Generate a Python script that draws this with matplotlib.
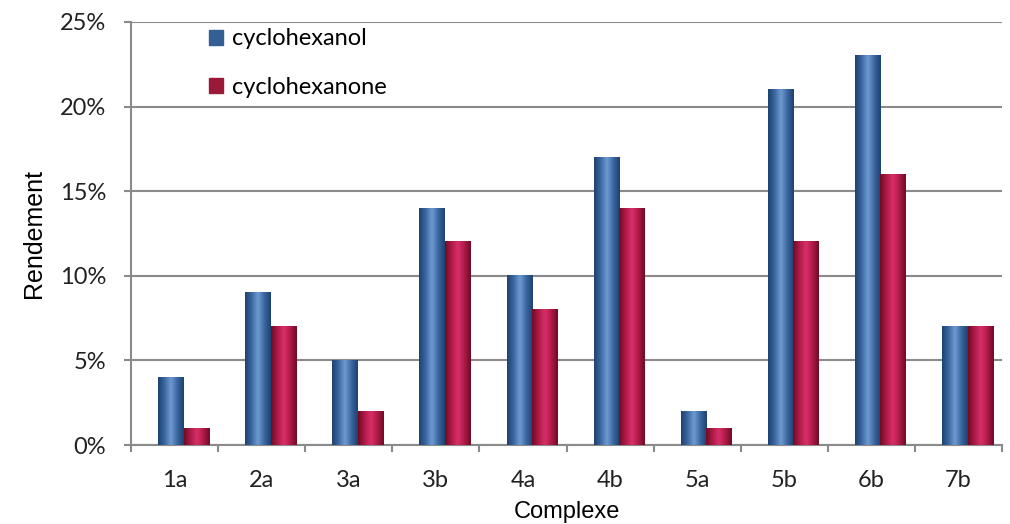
import matplotlib.pyplot as plt
import numpy as np
from matplotlib.colors import LinearSegmentedColormap
from matplotlib.patches import Patch
from matplotlib.ticker import FuncFormatter

complexes = ["1a", "2a", "3a", "3b", "4a", "4b", "5a", "5b", "6b", "7b"]
cyclohexanol = [4, 9, 5, 14, 10, 17, 2, 21, 23, 7]
cyclohexanone = [1, 7, 2, 12, 8, 14, 1, 12, 16, 7]

blue_cmap = LinearSegmentedColormap.from_list(
    "blue", ["#1d426f", "#3b66a0", "#6f9bd2", "#3b66a0", "#1d426f"])
red_cmap = LinearSegmentedColormap.from_list(
    "red", ["#6e0c25", "#b01a48", "#d9306a", "#b01a48", "#6e0c25"])

fig = plt.figure(figsize=(10.10, 5.24), dpi=100)
ax = fig.add_axes([131 / 1010, 79 / 524, 871 / 1010, 423 / 524])

x = np.arange(len(complexes))
w = 0.293
shift = 0.105
grad = np.linspace(0, 1, 64).reshape(1, -1)


def gradient_bars(xs, heights, cmap):
    for xi, h in zip(xs, heights):
        ax.imshow(grad, cmap=cmap, aspect="auto", extent=(xi, xi + w, 0, h),
                  zorder=3, interpolation="bicubic")


gradient_bars(x + shift - w, cyclohexanol, blue_cmap)
gradient_bars(x + shift, cyclohexanone, red_cmap)

ax.set_xlim(-0.5, len(complexes) - 0.5)
ax.set_ylim(0, 25)
ax.set_yticks(np.arange(0, 26, 5))
ax.yaxis.set_major_formatter(FuncFormatter(lambda v, p: f"{v:.0f}%"))
ax.set_xticks(x)
ax.set_xticklabels(complexes)
ax.set_xticks(np.arange(-0.5, len(complexes), 1), minor=True)
ax.tick_params(axis="x", which="major", length=0, pad=18)
ax.tick_params(axis="x", which="minor", length=5, width=1.5, color="#8a8a8a")
ax.tick_params(axis="y", length=5, width=1.5, color="#8a8a8a", pad=13)
ax.grid(axis="y", color="#8a8a8a", linewidth=1.5, zorder=1)
ax.set_axisbelow(True)

for side in ["top", "right"]:
    ax.spines[side].set_visible(False)
for side in ["left", "bottom"]:
    ax.spines[side].set_color("#8a8a8a")
    ax.spines[side].set_linewidth(1.5)

for lbl in ax.get_xticklabels() + ax.get_yticklabels():
    lbl.set_fontfamily("Lato")
    lbl.set_fontsize(17)
    lbl.set_color("#222222")

ax.set_xlabel("Complexe", fontsize=17, family="Liberation Sans", labelpad=7)
ax.set_ylabel("Rendement", fontsize=18, family="Liberation Sans", labelpad=10)

handles = [Patch(color="#335f95", label="cyclohexanol"),
           Patch(color="#9a1838", label="cyclohexanone")]
ax.legend(handles=handles, loc="upper left", bbox_to_anchor=(0.065, 1.035),
          frameon=False, prop={"family": "Lato", "size": 17},
          handlelength=0.6, handleheight=0.6, handletextpad=0.4,
          labelspacing=1.15)

fig.savefig("out.png", dpi=100)
